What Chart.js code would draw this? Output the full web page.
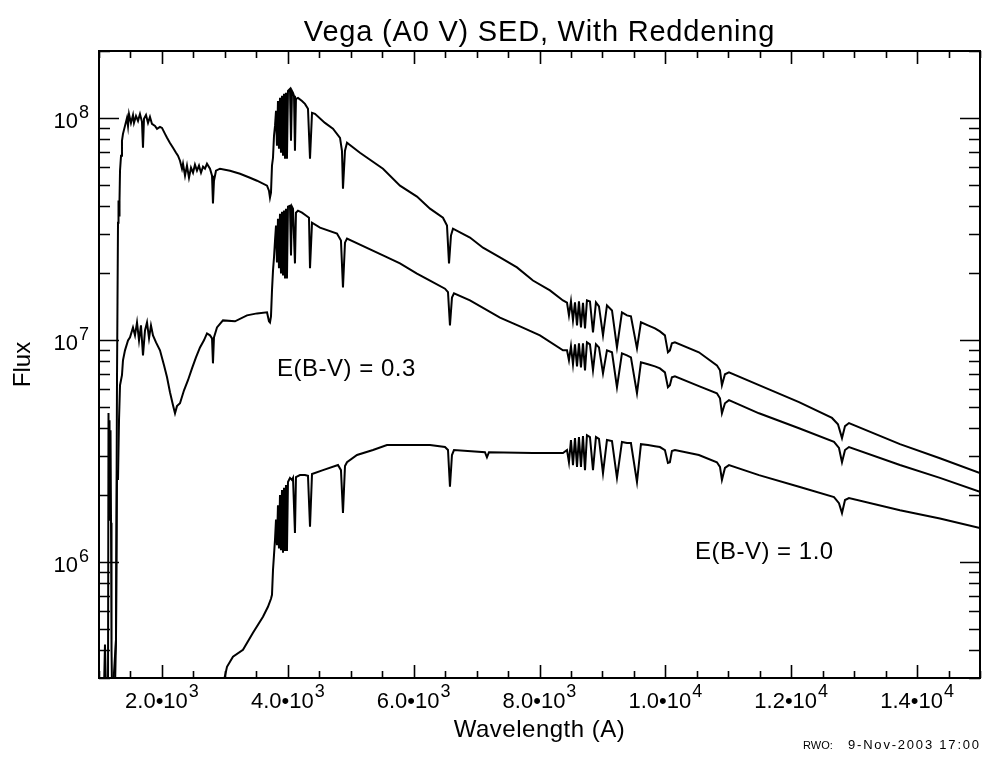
<!DOCTYPE html>
<html>
<head>
<meta charset="utf-8">
<title>Vega (A0 V) SED, With Reddening</title>
<script src="https://cdn.jsdelivr.net/npm/chart.js@4.4.1/dist/chart.umd.min.js"></script>
<style>
  html, body { margin: 0; padding: 0; background: #fff; }
  canvas { display: block; }
</style>
</head>
<body>
<canvas id="sed" width="991" height="762"></canvas>
<script>
// 波長 (A) と フラックス — 図から読み取った値
// 赤化なし (上の曲線)
const unreddenedWave = [
  1016, 1222, 1270, 1286, 1294, 1302, 1310, 1318, 1326, 1334,
  1350, 1365, 1381, 1413, 1445, 1461, 1477, 1508, 1540, 1556,
  1588, 1620, 1651, 1683, 1699, 1715, 1747, 1779, 1810, 1842,
  1890, 1922, 1969, 2001, 2049, 2081, 2128, 2176, 2224, 2255,
  2287, 2319, 2335, 2367, 2398, 2430, 2462, 2494, 2525, 2557,
  2589, 2621, 2653, 2684, 2716, 2764, 2796, 2811, 2827, 2859,
  2923, 3082, 3241, 3399, 3511, 3670, 3701, 3717, 3733, 3749,
  3765, 3781, 3797, 3813, 3828, 3844, 3860, 3876, 3892, 3908,
  3924, 3940, 3956, 3971, 3987, 4003, 4035, 4051, 4067, 4083,
  4099, 4114, 4130, 4162, 4226, 4273, 4321, 4353, 4385, 4432,
  4591, 4718, 4830, 4861, 4877, 4909, 4941, 5147, 5513, 5783,
  6053, 6260, 6466, 6530, 6562, 6593, 6625, 6895, 7102, 7372,
  7642, 7896, 8166, 8373, 8437, 8468, 8500, 8532, 8564, 8596,
  8627, 8659, 8691, 8723, 8754, 8802, 8850, 8897, 8945, 9009,
  9072, 9152, 9231, 9310, 9390, 9453, 9549, 9612, 9724, 9835,
  9914, 9993, 10041, 10072, 10104, 10152, 10533, 10819, 10868, 10899,
  10947, 11011, 11488, 12124, 12648, 12743, 12807, 12855, 12918, 13728,
  14363, 14999
];
const unreddenedFlux = [
  2.66e5, 2.66e5, 4.46e5, 6.58e6, 1.5e7, 3.37e7, 4.24e7, 3.63e7, 4.24e7, 5.78e7,
  6.75e7, 7.88e7, 8.47e7, 9.2e7, 1.0e8, 9.2e7, 1.04e8, 9.49e7, 1.03e8, 9.49e7,
  1.02e8, 9.69e7, 1.04e8, 9.59e7, 7.33e7, 9.9e7, 1.03e8, 9.49e7, 1.01e8, 9.39e7,
  9.2e7, 8.92e7, 9.11e7, 9.01e7, 8.47e7, 8.13e7, 7.71e7, 7.33e7, 6.96e7, 6.75e7,
  6.41e7, 5.9e7, 6.21e7, 5.49e7, 6.09e7, 5.37e7, 5.96e7, 5.66e7, 6.15e7, 5.78e7,
  6.09e7, 5.66e7, 6.03e7, 5.9e7, 6.21e7, 5.9e7, 5.49e7, 4.11e7, 5.21e7, 5.78e7,
  5.9e7, 5.78e7, 5.6e7, 5.37e7, 5.21e7, 4.95e7, 4.7e7, 4.37e7, 4.6e7, 6.09e7,
  6.61e7, 8.3e7, 9.2e7, 1.075e8, 7.49e7, 1.19e8, 7.26e7, 1.23e8, 6.96e7, 1.256e8,
  6.75e7, 1.283e8, 6.61e7, 1.296e8, 6.54e7, 1.322e8, 1.35e8, 7.88e7, 1.322e8, 1.296e8,
  1.256e8, 7.11e7, 1.218e8, 1.23e8, 1.19e8, 1.156e8, 1.098e8, 6.54e7, 1.053e8, 1.042e8,
  9.49e7, 8.93e7, 8.13e7, 7.11e7, 4.8e7, 7.11e7, 7.72e7, 6.96e7, 5.9e7, 4.95e7,
  4.42e7, 3.9e7, 3.55e7, 3.27e7, 2.21e7, 2.95e7, 3.17e7, 2.89e7, 2.6e7, 2.35e7,
  2.12e7, 1.85e7, 1.67e7, 1.505e7, 1.47e7, 1.289e7, 1.49e7, 1.224e7, 1.475e7, 1.162e7,
  1.49e7, 1.138e7, 1.47e7, 1.126e7, 1.505e7, 1.49e7, 1.08e7, 1.475e7, 1.416e7, 1.048e7,
  1.43e7, 1.357e7, 9.25e6, 1.33e7, 1.289e7, 1.276e7, 9.16e6, 1.2e7, 1.162e7, 1.126e7,
  1.092e7, 1.048e7, 8.79e6, 8.97e6, 9.65e6, 9.75e6, 8.79e6, 7.68e6, 7.29e6, 6.25e6,
  7.0e6, 7.14e6, 6.25e6, 5.24e6, 4.45e6, 4.17e6, 3.61e6, 4.09e6, 4.22e6, 3.39e6,
  2.93e6, 2.51e6
];

// E(B-V) = 0.3
const ebv03Wave = [
  1016, 1079, 1095, 1111, 1143, 1151, 1159, 1167, 1175, 1183,
  1191, 1199, 1207, 1254, 1270, 1286, 1302, 1318, 1334, 1365,
  1381, 1413, 1461, 1493, 1540, 1572, 1604, 1636, 1667, 1699,
  1731, 1763, 1795, 1826, 1858, 1906, 1969, 2033, 2081, 2128,
  2176, 2208, 2239, 2287, 2351, 2414, 2478, 2541, 2605, 2668,
  2716, 2764, 2796, 2811, 2827, 2875, 2970, 3161, 3352, 3511,
  3670, 3701, 3717, 3733, 3749, 3765, 3781, 3797, 3813, 3828,
  3844, 3860, 3876, 3892, 3908, 3924, 3940, 3956, 3971, 3987,
  4003, 4035, 4051, 4067, 4083, 4114, 4130, 4162, 4226, 4289,
  4337, 4353, 4385, 4512, 4782, 4845, 4877, 4909, 4941, 5513,
  5783, 6053, 6260, 6498, 6546, 6577, 6609, 6641, 6895, 7372,
  7690, 8007, 8373, 8437, 8468, 8500, 8532, 8564, 8596, 8627,
  8659, 8691, 8723, 8754, 8802, 8850, 8897, 8945, 9009, 9072,
  9152, 9231, 9310, 9390, 9453, 9549, 9612, 9724, 9835, 9914,
  9993, 10041, 10072, 10104, 10152, 10533, 10819, 10868, 10899, 10947,
  11011, 11488, 12124, 12680, 12759, 12807, 12855, 12918, 13728, 14363,
  14999
];
const ebv03Flux = [
  2.66e5, 2.66e5, 4.24e5, 2.66e5, 2.66e5, 4.68e6, 1.55e6, 4.35e6, 1.63e6, 3.92e6,
  1.5e6, 4.02e5, 2.66e5, 2.66e5, 4.46e5, 2.59e6, 2.34e6, 4.35e6, 6.25e6, 6.93e6,
  8.09e6, 8.97e6, 9.95e6, 1.026e7, 1.138e7, 1.048e7, 1.198e7, 9.95e6, 1.162e7, 8.52e6,
  1.103e7, 1.198e7, 1.016e7, 1.162e7, 1.048e7, 9.74e6, 8.97e6, 7.68e6, 6.78e6, 5.81e6,
  5.08e6, 4.67e6, 5.03e6, 5.18e6, 5.93e6, 6.58e6, 7.44e6, 8.34e6, 9.25e6, 9.95e6,
  1.069e7, 1.048e7, 1.016e7, 7.84e6, 1.026e7, 1.138e7, 1.224e7, 1.212e7, 1.289e7, 1.316e7,
  1.33e7, 1.212e7, 1.198e7, 1.276e7, 1.67e7, 2.05e7, 2.35e7, 2.8e7, 3.27e7, 2.23e7,
  3.51e7, 2.1e7, 3.7e7, 1.99e7, 3.78e7, 1.95e7, 3.82e7, 1.91e7, 3.9e7, 1.89e7,
  3.98e7, 4.02e7, 2.4e7, 3.98e7, 3.9e7, 2.21e7, 3.74e7, 3.82e7, 3.74e7, 3.63e7,
  3.55e7, 2.1e7, 3.37e7, 3.2e7, 3.01e7, 2.8e7, 1.72e7, 2.74e7, 2.86e7, 2.4e7,
  2.21e7, 1.99e7, 1.85e7, 1.7e7, 1.64e7, 1.162e7, 1.55e7, 1.62e7, 1.505e7, 1.26e7,
  1.15e7, 1.048e7, 8.97e6, 8.97e6, 8.09e6, 9.36e6, 7.76e6, 9.55e6, 7.6e6, 9.65e6,
  7.52e6, 9.65e6, 7.29e6, 9.75e6, 9.55e6, 7.29e6, 9.55e6, 9.25e6, 7.07e6, 8.97e6,
  8.79e6, 6.12e6, 8.7e6, 8.52e6, 8.34e6, 5.75e6, 7.92e6, 7.76e6, 7.6e6, 7.44e6,
  7.14e6, 6.12e6, 6.25e6, 6.78e6, 6.86e6, 6.19e6, 5.75e6, 5.46e6, 4.67e6, 5.18e6,
  5.35e6, 4.67e6, 4.0e6, 3.47e6, 3.26e6, 2.81e6, 3.19e6, 3.29e6, 2.73e6, 2.39e6,
  2.07e6
];

// E(B-V) = 1.0
const ebv10Wave = [
  2954, 3034, 3129, 3288, 3447, 3606, 3685, 3733, 3749, 3765,
  3781, 3797, 3813, 3828, 3844, 3860, 3876, 3892, 3908, 3924,
  3940, 3956, 3971, 3987, 4003, 4035, 4067, 4083, 4114, 4130,
  4194, 4273, 4321, 4353, 4385, 4559, 4798, 4845, 4877, 4909,
  4941, 5100, 5354, 5576, 6260, 6498, 6546, 6577, 6609, 6641,
  7133, 7165, 7197, 7896, 8373, 8437, 8468, 8500, 8532, 8564,
  8596, 8627, 8659, 8691, 8723, 8754, 8802, 8850, 8897, 8945,
  9009, 9072, 9152, 9231, 9310, 9390, 9453, 9549, 9612, 9724,
  9835, 9914, 9993, 10041, 10072, 10104, 10152, 10533, 10819, 10868,
  10899, 10947, 11011, 11488, 12124, 12680, 12759, 12807, 12855, 12918,
  13728, 14363, 14999
];
const ebv10Flux = [
  2.66e5, 3.37e5, 3.74e5, 4.02e5, 4.8e5, 5.66e5, 6.28e5, 6.82e5, 7.11e5, 9.2e5,
  1.075e6, 1.26e6, 1.55e6, 1.19e6, 1.8e6, 1.15e6, 2.0e6, 1.13e6, 2.11e6, 1.1e6,
  2.16e6, 1.13e6, 2.22e6, 1.12e6, 2.29e6, 2.39e6, 2.34e6, 2.39e6, 1.35e6, 2.41e6,
  2.46e6, 2.46e6, 2.44e6, 1.44e6, 2.49e6, 2.59e6, 2.73e6, 2.59e6, 1.66e6, 2.7e6,
  2.81e6, 3.03e6, 3.19e6, 3.36e6, 3.36e6, 3.29e6, 3.19e6, 2.18e6, 3.03e6, 3.19e6,
  3.12e6, 2.96e6, 3.12e6, 3.09e6, 3.09e6, 3.19e6, 2.81e6, 3.54e6, 2.73e6, 3.61e6,
  2.68e6, 3.65e6, 2.68e6, 3.69e6, 2.59e6, 3.72e6, 3.65e6, 2.59e6, 3.65e6, 3.58e6,
  2.51e6, 3.54e6, 3.5e6, 2.39e6, 3.47e6, 3.43e6, 3.43e6, 2.29e6, 3.39e6, 3.36e6,
  3.32e6, 3.29e6, 3.19e6, 2.79e6, 2.81e6, 3.16e6, 3.19e6, 3.03e6, 2.81e6, 2.68e6,
  2.34e6, 2.65e6, 2.73e6, 2.46e6, 2.18e6, 1.96e6, 1.84e6, 1.66e6, 1.9e6, 1.94e6,
  1.71e6, 1.57e6, 1.42e6
];

// 軸の目盛り
const xRange = [1000, 15000];
const yRange = [3e5, 2e8];
const xTickValues = [2000, 4000, 6000, 8000, 10000, 12000, 14000];
const xTickLabels = ['2.0•10^3', '4.0•10^3', '6.0•10^3', '8.0•10^3', '1.0•10^4', '1.2•10^4', '1.4•10^4'];
const xMinorStep = 500;
const yTickValues = [1e6, 1e7, 1e8];
const yTickLabels = ['10^6', '10^7', '10^8'];

// 注記
const annotations = [
  { text: 'E(B-V) = 0.3', wave: 3830, flux: 6.9e6 },
  { text: 'E(B-V) = 1.0', wave: 10470, flux: 1.03e6 }
];

const FONT = '"Liberation Sans", Arial, Helvetica, sans-serif';

function toPoints(waves, fluxes) {
  return waves.map((w, i) => ({ x: w, y: fluxes[i] }));
}

// 副目盛りの値
const xMinorTicks = [];
for (let v = xRange[0]; v <= xRange[1]; v += xMinorStep) xMinorTicks.push(v);
const yMinorTicks = [];
for (let e = 5; e <= 8; e++) {
  for (let m = 1; m <= 9; m++) {
    const v = m * Math.pow(10, e);
    if (v >= yRange[0] && v <= yRange[1]) yMinorTicks.push(v);
  }
}

/**
 * "2.0•10^3" のような文字列を上付き文字つきで描く
 */
function drawPowerLabel(ctx, text, x, y, align, size, expSize, raise) {
  const [base, exp] = text.split('^');
  ctx.font = `${size}px ${FONT}`;
  const wb = ctx.measureText(base).width;
  ctx.font = `${expSize}px ${FONT}`;
  const we = exp ? ctx.measureText(exp).width : 0;
  const total = wb + we + 1;
  let x0 = x;
  if (align === 'center') x0 = x - total / 2;
  else if (align === 'right') x0 = x - total;
  ctx.textAlign = 'left';
  ctx.textBaseline = 'alphabetic';
  ctx.font = `${size}px ${FONT}`;
  ctx.fillText(base, x0, y);
  if (exp) {
    ctx.font = `${expSize}px ${FONT}`;
    ctx.fillText(exp, x0 + wb + 1, y - raise);
  }
}

// IDL風の枠・内向き目盛り・文字を描くプラグイン
const idlFramePlugin = {
  id: 'idlFrame',
  afterDatasetsDraw(chart) {
    const { ctx, chartArea: area } = chart;
    const xs = chart.scales.x;
    const ys = chart.scales.y;
    ctx.save();
    ctx.strokeStyle = '#000';
    ctx.fillStyle = '#000';

    // 枠
    ctx.lineWidth = 2;
    ctx.strokeRect(area.left, area.top, area.right - area.left, area.bottom - area.top);

    // 目盛り
    ctx.lineWidth = 1.6;
    ctx.beginPath();
    xMinorTicks.forEach(v => {
      const px = Math.round(xs.getPixelForValue(v)) + 0.5;
      const len = xTickValues.includes(v) ? 13 : 7;
      ctx.moveTo(px, area.bottom);
      ctx.lineTo(px, area.bottom - len);
      ctx.moveTo(px, area.top);
      ctx.lineTo(px, area.top + len);
    });
    yMinorTicks.forEach(v => {
      const py = Math.round(ys.getPixelForValue(v)) + 0.5;
      const len = yTickValues.includes(v) ? 20 : 11;
      ctx.moveTo(area.left, py);
      ctx.lineTo(area.left + len, py);
      ctx.moveTo(area.right, py);
      ctx.lineTo(area.right - len, py);
    });
    ctx.stroke();

    // 目盛りラベル
    xTickValues.forEach((v, i) => {
      drawPowerLabel(ctx, xTickLabels[i], xs.getPixelForValue(v), area.bottom + 30, 'center', 22, 18, 11);
    });
    yTickValues.forEach((v, i) => {
      drawPowerLabel(ctx, yTickLabels[i], area.left - 10, ys.getPixelForValue(v) + 10, 'right', 22, 18, 10);
    });

    // タイトル
    ctx.textAlign = 'center';
    ctx.textBaseline = 'alphabetic';
    ctx.font = `29px ${FONT}`;
    ctx.letterSpacing = '0.8px';
    ctx.fillText('Vega (A0 V) SED, With Reddening', (area.left + area.right) / 2, 41);

    // 軸タイトル
    ctx.font = `24px ${FONT}`;
    ctx.letterSpacing = '0.5px';
    ctx.fillText('Wavelength (A)', (area.left + area.right) / 2, 737);
    ctx.save();
    ctx.translate(30, (area.top + area.bottom) / 2);
    ctx.rotate(-Math.PI / 2);
    ctx.letterSpacing = '0px';
    ctx.fillText('Flux', 0, 0);
    ctx.restore();

    // 注記
    ctx.textAlign = 'left';
    ctx.font = `24px ${FONT}`;
    ctx.letterSpacing = '0.5px';
    annotations.forEach(a => {
      ctx.fillText(a.text, xs.getPixelForValue(a.wave), ys.getPixelForValue(a.flux));
    });

    // 日付
    ctx.font = `11px ${FONT}`;
    ctx.letterSpacing = '0px';
    ctx.fillText('RWO:', 803, 749);
    ctx.font = `13px ${FONT}`;
    ctx.letterSpacing = '1.8px';
    ctx.fillText('9-Nov-2003 17:00', 848, 749);

    ctx.restore();
  }
};

const lineStyle = {
  showLine: true,
  borderColor: '#000',
  borderWidth: 2,
  pointRadius: 0,
  tension: 0
};

new Chart(document.getElementById('sed'), {
  type: 'scatter',
  data: {
    datasets: [
      { label: 'E(B-V) = 0', data: toPoints(unreddenedWave, unreddenedFlux), ...lineStyle },
      { label: 'E(B-V) = 0.3', data: toPoints(ebv03Wave, ebv03Flux), ...lineStyle },
      { label: 'E(B-V) = 1.0', data: toPoints(ebv10Wave, ebv10Flux), ...lineStyle }
    ]
  },
  options: {
    responsive: false,
    animation: false,
    layout: { padding: { left: 99, right: 11, top: 51, bottom: 84 } },
    plugins: {
      legend: { display: false },
      tooltip: { enabled: false }
    },
    scales: {
      x: { type: 'linear', min: xRange[0], max: xRange[1], display: false },
      y: { type: 'logarithmic', min: yRange[0], max: yRange[1], display: false }
    }
  },
  plugins: [idlFramePlugin]
});
</script>
</body>
</html>
